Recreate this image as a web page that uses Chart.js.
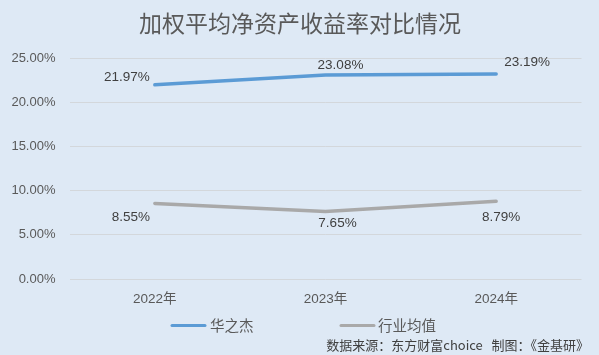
<!DOCTYPE html>
<html>
<head>
<meta charset="utf-8">
<script src="https://cdn.jsdelivr.net/npm/chart.js@4"></script>
<style>
html,body{margin:0;padding:0;background:#dee9f5;}
#wrap{width:599px;height:355px;position:relative;}
</style>
</head>
<body>
<div id="wrap"><canvas id="c" width="599" height="355"></canvas></div>
<script>
const chartTitle = '加权平均净资产收益率对比情况';
const categories = ['2022年', '2023年', '2024年'];
const seriesNames = ['华之杰', '行业均值'];
const companyValues = [21.97, 23.08, 23.19];
const industryValues = [8.55, 7.65, 8.79];
const yTicks = [0, 5, 10, 15, 20, 25];
const sourceText = '数据来源：东方财富choice   制图：《金基研》';

const FONT = '"Liberation Sans","Noto Sans CJK SC",sans-serif';
const CJK = '"Noto Sans CJK SC","Liberation Sans",sans-serif';
const colors = ['#5b9bd5', '#a9a9a9'];
// label offsets relative to point (style, not data)
const labelOffsets = [
  [[-28, -8], [15, -10], [31, -12]],
  [[-24, 14], [12, 12], [5, 16]]
];

const decorPlugin = {
  id: 'decor',
  beforeDraw(chart) {
    const ctx = chart.ctx;
    ctx.save();
    ctx.fillStyle = '#dee9f5';
    ctx.fillRect(0, 0, chart.width, chart.height);
    ctx.restore();
  },
  afterDraw(chart) {
    const ctx = chart.ctx;
    ctx.save();
    // title
    ctx.fillStyle = '#595959';
    ctx.font = '23px ' + CJK;
    ctx.textAlign = 'center';
    ctx.textBaseline = 'middle';
    ctx.fillText(chartTitle, 300, 23);
    // data labels
    ctx.font = '13.5px ' + FONT;
    ctx.fillStyle = '#404040';
    chart.data.datasets.forEach((ds, di) => {
      const meta = chart.getDatasetMeta(di);
      meta.data.forEach((pt, i) => {
        const off = labelOffsets[di][i];
        ctx.fillText(ds.data[i].toFixed(2) + '%', pt.x + off[0], pt.y + off[1]);
      });
    });
    // legend
    const legendItems = [[171, 210], [340, 378]];
    ctx.font = '14.5px ' + CJK;
    ctx.textAlign = 'left';
    chart.data.datasets.forEach((ds, di) => {
      const [lx, tx] = legendItems[di];
      ctx.strokeStyle = ds.borderColor;
      ctx.lineWidth = 3;
      ctx.lineCap = 'round';
      ctx.beginPath();
      ctx.moveTo(lx + 1, 325.5);
      ctx.lineTo(lx + 34, 325.5);
      ctx.stroke();
      ctx.fillStyle = '#595959';
      ctx.fillText(ds.label, tx, 325);
    });
    // source
    ctx.font = '13px ' + CJK;
    ctx.fillStyle = '#404040';
    ctx.textAlign = 'right';
    ctx.fillText(sourceText, 589, 345);
    ctx.restore();
  }
};

new Chart(document.getElementById('c'), {
  type: 'line',
  data: {
    labels: categories,
    datasets: [
      { label: seriesNames[0], data: companyValues, borderColor: colors[0], backgroundColor: colors[0], borderWidth: 3.5, pointRadius: 0, tension: 0, borderCapStyle: 'round' },
      { label: seriesNames[1], data: industryValues, borderColor: colors[1], backgroundColor: colors[1], borderWidth: 3.5, pointRadius: 0, tension: 0, borderCapStyle: 'round' }
    ]
  },
  options: {
    responsive: false,
    animation: false,
    devicePixelRatio: 1,
    layout: { padding: { left: 0, top: 58, right: 17.5, bottom: 26 } },
    plugins: { legend: { display: false }, title: { display: false }, tooltip: { enabled: false } },
    scales: {
      x: {
        offset: true,
        grid: { display: false },
        border: { display: false },
        ticks: { padding: 4, color: '#595959', font: { size: 13.5, family: FONT } },
        afterFit(s) { s.height = 50; }
      },
      y: {
        min: 0, max: 25,
        afterBuildTicks(s) { s.ticks = yTicks.map(v => ({ value: v })); },
        grid: { color: '#d3d7db', lineWidth: 1, drawTicks: false },
        border: { display: false },
        ticks: { padding: 14, color: '#595959', font: { size: 13, family: FONT }, callback: v => v.toFixed(2) + '%' },
        afterFit(s) { s.width = 69.5; }
      }
    }
  },
  plugins: [decorPlugin]
});
</script>
</body>
</html>
